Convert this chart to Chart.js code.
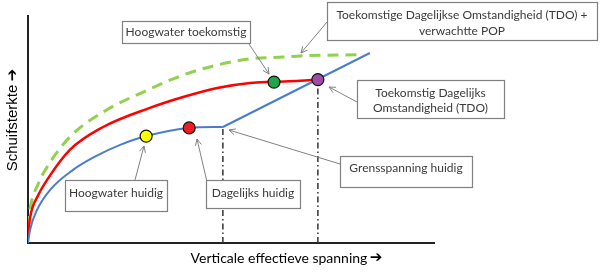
<!DOCTYPE html>
<html lang="nl">
<head>
<meta charset="UTF-8">
<title>Schuifsterkte</title>
<script src="https://cdn.jsdelivr.net/npm/chart.js"></script>
<style>
  body { margin: 0; background: #fff; }
</style>
</head>
<body>
<canvas id="myChart" width="600" height="274"></canvas>
<script>
// x: verticale effectieve spanning, y: schuifsterkte (schematisch, 0-100)
let blue_x = [0, 0.5, 2.2, 5.4, 11.1, 17.0, 22.7, 29.1, 39.7, 48.0];
let blue_y = [0, 5.7, 14.5, 23.3, 32.2, 38.5, 43.2, 47.1, 50.7, 51.1];
let blue2_x = [48.0, 84.2];
let blue2_y = [51.1, 83.7];
let red_x = [0, 0.5, 2.5, 4.7, 10.3, 18.5, 30.0, 38.2, 46.6, 54.7, 60.6, 67.0, 71.4];
let red_y = [3, 11.0, 21.0, 27.8, 41.0, 51.1, 59.5, 64.3, 68.3, 70.5, 71.0, 71.5, 72.0];
let green_x = [0, 0.5, 2.5, 4.7, 10.3, 18.5, 30.0, 38.2, 46.6, 54.7, 62.8, 67.0, 82.5];
let green_y = [7, 15.0, 26.0, 33.5, 46.7, 57.7, 67.8, 74.0, 78.4, 81.1, 81.9, 82.4, 83.0];
// punten: hoogwater huidig, dagelijks huidig, hoogwater toekomstig, TDO
let pt_x = [29.1, 39.7, 60.6, 71.4];
let pt_y = [47.1, 50.7, 70.9, 72.0];
let pt_colors = ['#ffff00', '#ee1c24', '#1fa64a', '#a24aa8'];
// stippellijnen naar de x-as (grensspanning huidig, TDO)
let drop_x = [48.0, 71.4];
let drop_y = [51.1, 72.0];

function xy(xs, ys) {
    return xs.map(function (x, i) { return { x: x, y: ys[i] }; });
}

// tekstvakken met pijlen (pixels)
let notes = [
    { lines: ['Hoogwater toekomstig'], box: [122, 21, 128, 22], ty: [32], from: [249, 44], to: [269, 74] },
    { lines: ['Toekomstige Dagelijkse Omstandigheid (TDO) +', 'verwachtte POP'], box: [327, 2, 270, 38], ty: [15, 31], from: [327, 22], to: [301, 53] },
    { lines: ['Toekomstig Dagelijks', 'Omstandigheid (TDO)'], box: [357, 80, 147, 38], ty: [93, 108], from: [357, 102], to: [329, 87] },
    { lines: ['Grensspanning huidig'], box: [340, 156, 132, 31], ty: [168], from: [340, 164], to: [229, 130] },
    { lines: ['Hoogwater huidig'], box: [65, 180, 102, 31], ty: [193], from: [135, 180], to: [144, 146] },
    { lines: ['Dagelijks huidig'], box: [206, 180, 94, 28], ty: [193], from: [207, 182], to: [197, 139] }
];

function arrow(ctx, a, b) {
    let ang = Math.atan2(b[1] - a[1], b[0] - a[0]);
    let len = 7;
    ctx.beginPath();
    ctx.moveTo(a[0], a[1]);
    ctx.lineTo(b[0], b[1]);
    ctx.moveTo(b[0] - len * Math.cos(ang - 0.45), b[1] - len * Math.sin(ang - 0.45));
    ctx.lineTo(b[0], b[1]);
    ctx.lineTo(b[0] - len * Math.cos(ang + 0.45), b[1] - len * Math.sin(ang + 0.45));
    ctx.stroke();
}

let notesPlugin = {
    id: 'notes',
    afterDraw: function (chart) {
        let ctx = chart.ctx;
        ctx.save();
        // as-titels
        ctx.fillStyle = '#000';
        ctx.textAlign = 'center';
        ctx.textBaseline = 'middle';
        ctx.font = '14px Lato';
        ctx.fillText('Verticale effectieve spanning', 279, 258);
        ctx.font = 'bold 15px "DejaVu Sans"';
        ctx.fillText('\u2794', 376, 258);
        ctx.save();
        ctx.translate(13, 120);
        ctx.rotate(-Math.PI / 2);
        ctx.font = '15px "Liberation Sans"';
        ctx.fillText('Schuifsterkte', -8, 0);
        ctx.font = 'bold 15px "DejaVu Sans"';
        ctx.fillText('\u2794', 45, 0);
        ctx.restore();

        ctx.strokeStyle = '#808080';
        ctx.lineWidth = 1;
        notes.forEach(function (n) {
            arrow(ctx, n.from, n.to);
        });
        notes.forEach(function (n) {
            let b = n.box;
            ctx.fillStyle = '#fff';
            ctx.fillRect(b[0], b[1], b[2], b[3]);
            ctx.lineWidth = 1.2;
            ctx.strokeRect(b[0] + 0.5, b[1] + 0.5, b[2], b[3]);
            ctx.lineWidth = 1;
            ctx.fillStyle = '#3a3a3a';
            ctx.font = '12px Lato';
            n.lines.forEach(function (t, i) {
                ctx.fillText(t, b[0] + b[2] / 2, n.ty[i]);
            });
        });
        ctx.restore();
    }
};

let datasets = [
    {
        data: xy(pt_x, pt_y), showLine: false, order: 0,
        pointRadius: 6, pointBackgroundColor: pt_colors,
        pointBorderColor: '#111', pointBorderWidth: 1.2
    },
    { data: xy(green_x, green_y), borderColor: '#92d050', borderWidth: 3, borderDash: [11, 7], cubicInterpolationMode: 'monotone', order: 3 },
    { data: xy(red_x, red_y), borderColor: '#ff0000', borderWidth: 2.5, cubicInterpolationMode: 'monotone', order: 2 },
    { data: xy(blue_x, blue_y), borderColor: '#4a7ccc', borderWidth: 2, cubicInterpolationMode: 'monotone', order: 1 },
    { data: xy(blue2_x, blue2_y), borderColor: '#4a7ccc', borderWidth: 2, tension: 0, order: 1 }
];
drop_x.forEach(function (x, i) {
    datasets.push({
        data: [{ x: x, y: 0 }, { x: x, y: drop_y[i] }],
        borderColor: '#333', borderWidth: 1.5, borderDash: [6, 3, 1.5, 3], order: 4
    });
});
datasets.forEach(function (d) {
    if (d.order > 0) d.pointRadius = 0;
    d.fill = false;
});

let configs = {
    type: 'line',
    data: { datasets: datasets },
    options: {
        responsive: false,
        animation: false,
        layout: { padding: { top: 16, right: 166, left: 0, bottom: 0 } },
        plugins: { legend: { display: false }, tooltip: { enabled: false } },
        scales: {
            x: {
                type: 'linear', min: 0, max: 100,
                ticks: { display: false }, grid: { display: false },
                border: { color: '#222', width: 2 },
                afterFit: function (s) { s.height = 31; }
            },
            y: {
                min: 0, max: 100,
                ticks: { display: false }, grid: { display: false },
                border: { color: '#222', width: 2 },
                afterFit: function (s) { s.width = 28; }
            }
        }
    },
    plugins: [notesPlugin]
};
let myChart = new Chart(document.getElementById('myChart'), configs);
</script>
</body>
</html>
